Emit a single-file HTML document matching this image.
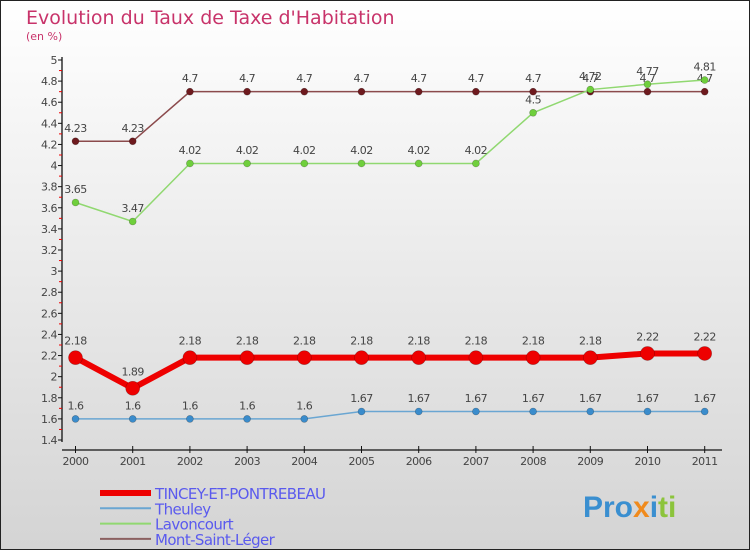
<!DOCTYPE html>
<html><head><meta charset="utf-8"><style>
body{margin:0;}
svg{display:block;font-family:"DejaVu Sans","Liberation Sans",sans-serif;}
</style></head><body>
<svg id="chart" width="750" height="550" viewBox="0 0 750 550">
<defs><linearGradient id="bg" x1="0" y1="0" x2="0" y2="1"><stop offset="0" stop-color="#ffffff"/><stop offset="1" stop-color="#d4d4d4"/></linearGradient></defs>
<rect x="0.5" y="0.5" width="749" height="549" fill="url(#bg)" stroke="#222"/>
<text x="26" y="24" font-size="19" fill="#c8336a">Evolution du Taux de Taxe d'Habitation</text>
<text x="26" y="40" font-size="11" fill="#c8336a">(en %)</text>
<g id="axes"></g>
<g id="series"></g>
<g id="legend"></g>
<g>
<text x="583" y="517" font-size="30" font-weight="bold" font-family="Liberation Sans, sans-serif"><tspan fill="#3a8fd0">Pro</tspan><tspan fill="#f08a1c">x</tspan><tspan fill="#3a8fd0">i</tspan><tspan fill="#8cc43c">ti</tspan></text>
</g>
</svg>
<script>
const years=["2000","2001","2002","2003","2004","2005","2006","2007","2008","2009","2010","2011"];
const tincey=[2.18,1.89,2.18,2.18,2.18,2.18,2.18,2.18,2.18,2.18,2.22,2.22];
const theuley=[1.6,1.6,1.6,1.6,1.6,1.67,1.67,1.67,1.67,1.67,1.67,1.67];
const lavoncourt=[3.65,3.47,4.02,4.02,4.02,4.02,4.02,4.02,4.5,4.72,4.77,4.81];
const montSaintLeger=[4.23,4.23,4.7,4.7,4.7,4.7,4.7,4.7,4.7,4.7,4.7,4.7];
const yTicks=[1.4,1.6,1.8,2,2.2,2.4,2.6,2.8,3,3.2,3.4,3.6,3.8,4,4.2,4.4,4.6,4.8,5];
const seriesNames=["TINCEY-ET-PONTREBEAU","Theuley","Lavoncourt","Mont-Saint-Léger"];

const NS="http://www.w3.org/2000/svg";
const yMin=1.4,yMax=5,py0=440,py1=60;
const x0=75.5,dx=57.2;
function X(i){return x0+i*dx;}
function Y(v){return py0-(v-yMin)/(yMax-yMin)*(py0-py1);}
function fmt(v){return String(v);}
function mk(tag,attrs,parent,txt){const e=document.createElementNS(NS,tag);for(const k in attrs)e.setAttribute(k,attrs[k]);if(txt!==undefined)e.textContent=txt;parent.appendChild(e);return e;}

const axes=document.getElementById('axes');
let e=mk('line',{x1:62,y1:57,x2:62,y2:442,stroke:'#111','stroke-width':1.3},axes);


e=mk('line',{x1:62,y1:450,x2:722,y2:450,stroke:'#111','stroke-width':1.3},axes);


yTicks.forEach((t,i)=>{
  const y=Y(t);
  mk('line',{x1:58,y1:y,x2:62,y2:y,stroke:'#111'},axes);
  const lb=mk('text',{x:57,y:y+4,'font-size':11,fill:'#444','text-anchor':'end','letter-spacing':'-0.5'},axes,fmt(t));
  
  
  if(i<yTicks.length-1){const ym=Y(t+0.1);mk('line',{x1:59,y1:ym,x2:62,y2:ym,stroke:'#e00'},axes);}
});
years.forEach((yr,i)=>{
  mk('line',{x1:X(i),y1:446,x2:X(i),y2:453,stroke:'#111'},axes);
  const lb=mk('text',{x:X(i),y:465,'font-size':11,fill:'#444','text-anchor':'middle','letter-spacing':'-0.5'},axes,yr);
  
  
});

const ser=document.getElementById('series');
const defs=[
 {d:montSaintLeger,c:'#6e1a1e',lc:'#8b4a4c',w:1.5,r:3.5,name:'mont-saint-leger'},
 {d:lavoncourt,c:'#6fcf3c',lc:'#90d870',w:1.5,r:3.5,name:'lavoncourt'},
 {d:theuley,c:'#3a8ccc',lc:'#6aa6d2',w:1.5,r:3.5,name:'theuley'},
 {d:tincey,c:'#ee0000',lc:'#ee0000',w:6,r:7,name:'tincey-et-pontrebeau'}
];
defs.forEach(s=>{
  const g=mk('g',{},ser);
  
  
  const pts=s.d.map((v,i)=>X(i)+','+Y(v)).join(' ');
  const pl=mk('polyline',{points:pts,fill:'none',stroke:s.lc,'stroke-width':s.w},g);
  
  
  s.d.forEach((v,i)=>{
    const c=mk('circle',{cx:X(i),cy:Y(v),r:s.r,fill:s.c,stroke:'rgba(0,0,0,0.3)','stroke-width':0.6},g);
    
    
    const t=mk('text',{x:X(i),y:Y(v)-(s.r+6),'font-size':11,fill:'#444','text-anchor':'middle','letter-spacing':'-0.5'},g,fmt(v));
    
    
  });
});

const leg=document.getElementById('legend');
const lc=['#ee0000','#6aa6d2','#90d870','#8b6060'],lw=[6,2,2,2];
seriesNames.forEach((n,i)=>{
  const y=493+i*15.3;
  const g=mk('g',{},leg);
  
  
  mk('line',{x1:100,y1:y,x2:151,y2:y,stroke:lc[i],'stroke-width':lw[i]},g);
  mk('text',{x:155,y:y+6,'font-size':15,fill:'#5a5aee','letter-spacing':'-0.6'},g,n);
});
</script>
</body></html>
